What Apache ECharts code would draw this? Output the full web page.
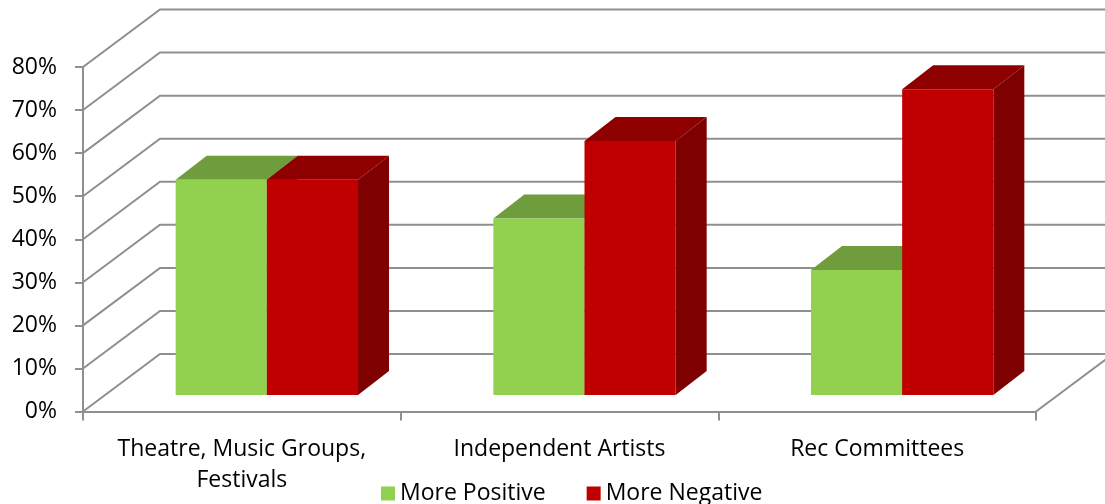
<!DOCTYPE html>
<html>
<head>
<meta charset="utf-8">
<title>Perception by group</title>
<script src="https://cdn.jsdelivr.net/npm/echarts@6/dist/echarts.min.js"></script>
<style>
  html, body { margin: 0; padding: 0; background: #ffffff; }
  #chart { width: 1105px; height: 504px; }
</style>
</head>
<body>
<div id="chart"></div>
<script>
// Chart data
var categories = ['Theatre, Music Groups,\nFestivals', 'Independent Artists', 'Rec Committees'];
var seriesNames = ['More Positive', 'More Negative'];
var morePositive = [0.50, 0.41, 0.29];
var moreNegative = [0.50, 0.59, 0.71];
var yTicks = [0, 0.1, 0.2, 0.3, 0.4, 0.5, 0.6, 0.7, 0.8];

// Styling for the pseudo-3D look
var FONT = '"Open Sans"';
var FONT_SIZE = 23;
var GRID_COLOR = '#8f8f8f';
var WALL_DEPTH = [77, -57.5];      // offset from front plane to back wall
var BAR_FRONT = [25, -16.5];       // front face of bars sits a bit into the box
var BAR_DEPTH = [31, -24];         // thickness of each bar
var BAR_RATIO = 0.287;             // bar width as share of a category band
var faceColors = [
  { front: '#92D050', top: '#6F9C3C', side: '#5E8633' },
  { front: '#C00000', top: '#8E0000', side: '#7F0000' }
];

var chart = echarts.init(document.getElementById('chart'), null, { renderer: 'canvas' });

// Back wall, side wall and floor lines for one tick value
function renderWall(params, api) {
  var v = api.value(1);
  var band = api.size([1, 0])[0];
  var pL = api.coord([0, v]);
  var pR = api.coord([categories.length - 1, v]);
  var xL = pL[0] - band / 2;
  var xR = pR[0] + band / 2;
  var y = pL[1];
  var style = { stroke: GRID_COLOR, lineWidth: 2, fill: null };
  var children = [{
    type: 'polyline',
    shape: { points: [[xL, y], [xL + WALL_DEPTH[0], y + WALL_DEPTH[1]], [xR + WALL_DEPTH[0], y + WALL_DEPTH[1]]] },
    style: style
  }];
  if (v === 0) {
    children.push({
      type: 'line',
      shape: { x1: xR, y1: y, x2: xR + WALL_DEPTH[0], y2: y + WALL_DEPTH[1] },
      style: style
    });
  }
  return { type: 'group', children: children };
}

// A box-shaped bar: front, top and right side faces
function makeBarRenderer(seriesIdx) {
  return function (params, api) {
    var i = api.value(0);
    var v = api.value(1);
    var band = api.size([1, 0])[0];
    var barW = band * BAR_RATIO;
    var top = api.coord([i, v]);
    var base = api.coord([i, 0]);
    var x0 = top[0] + BAR_FRONT[0] + (seriesIdx === 0 ? -barW : 0);
    var x1 = x0 + barW;
    var yT = top[1] + BAR_FRONT[1];
    var yB = base[1] + BAR_FRONT[1];
    var dx = BAR_DEPTH[0], dy = BAR_DEPTH[1];
    var c = faceColors[seriesIdx];
    return {
      type: 'group',
      children: [
        { type: 'polygon', shape: { points: [[x1, yT], [x1 + dx, yT + dy], [x1 + dx, yB + dy], [x1, yB]] }, style: { fill: c.side } },
        { type: 'polygon', shape: { points: [[x0, yT], [x0 + dx, yT + dy], [x1 + dx, yT + dy], [x1, yT]] }, style: { fill: c.top } },
        { type: 'rect', shape: { x: x0, y: yT, width: x1 - x0, height: yB - yT }, style: { fill: c.front } }
      ]
    };
  };
}

function toPairs(arr) {
  return arr.map(function (v, i) { return [i, v]; });
}

var option = {
  animation: false,
  backgroundColor: '#ffffff',
  grid: { left: 83, right: 69, top: 67, bottom: 92.5, containLabel: false },
  legend: {
    data: seriesNames.map(function (n) { return { name: n, icon: 'rect' }; }),
    left: 381,
    top: 482,
    padding: 0,
    itemWidth: 14,
    itemHeight: 14,
    itemGap: 41,
    textStyle: { fontFamily: FONT, fontSize: FONT_SIZE, color: '#000' },
    selectedMode: false
  },
  xAxis: {
    type: 'category',
    data: categories,
    boundaryGap: true,
    axisLine: { show: true, lineStyle: { color: GRID_COLOR, width: 2 } },
    axisTick: { show: true, length: 9, interval: 0, lineStyle: { color: GRID_COLOR, width: 2 } },
    axisLabel: { interval: 0, margin: 22, color: '#000', fontFamily: FONT, fontSize: FONT_SIZE, lineHeight: 31 },
    splitLine: { show: false }
  },
  yAxis: {
    type: 'value',
    min: 0,
    max: 0.8,
    interval: 0.1,
    axisLine: { show: true, lineStyle: { color: GRID_COLOR, width: 2 } },
    axisTick: { show: true, length: 8, lineStyle: { color: GRID_COLOR, width: 2 } },
    axisLabel: {
      margin: 26,
      color: '#000',
      fontFamily: FONT,
      fontSize: FONT_SIZE,
      formatter: function (v) { return Math.round(v * 100) + '%'; }
    },
    splitLine: { show: false }
  },
  series: [
    {
      type: 'custom',
      name: 'walls',
      z: 1,
      silent: true,
      renderItem: renderWall,
      encode: { x: 0, y: 1 },
      data: yTicks.map(function (v) { return [0, v]; })
    },
    {
      type: 'custom',
      name: seriesNames[0],
      z: 3,
      silent: true,
      itemStyle: { color: faceColors[0].front },
      renderItem: makeBarRenderer(0),
      encode: { x: 0, y: 1 },
      data: toPairs(morePositive)
    },
    {
      type: 'custom',
      name: seriesNames[1],
      z: 4,
      silent: true,
      itemStyle: { color: faceColors[1].front },
      renderItem: makeBarRenderer(1),
      encode: { x: 0, y: 1 },
      data: toPairs(moreNegative)
    }
  ]
};

chart.setOption(option);
</script>
</body>
</html>
